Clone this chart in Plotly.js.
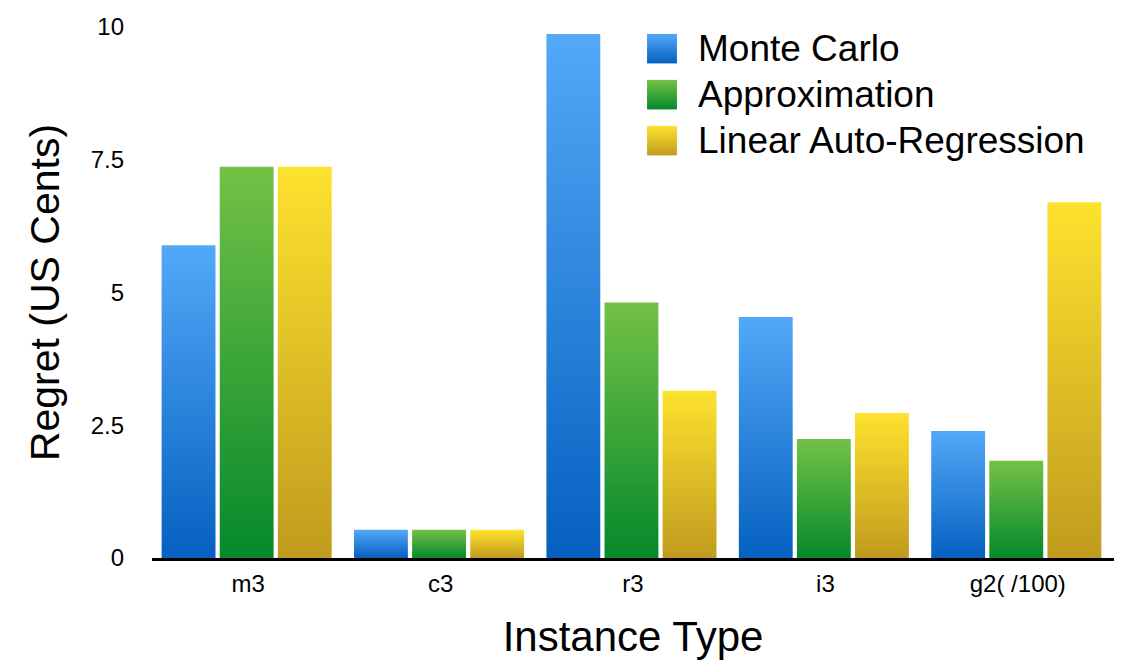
<!DOCTYPE html>
<html>
<head>
<meta charset="utf-8">
<script src="https://cdn.plot.ly/plotly-3.0.1.min.js"></script>
<style>
  html, body { margin: 0; padding: 0; background: #ffffff; }
  #chart { width: 1126px; height: 662px; }
</style>
</head>
<body>
<div id="chart"></div>
<script>
// Regret per instance type for three price-prediction methods
const categories = ['m3', 'c3', 'r3', 'i3', 'g2( /100)'];
const monteCarlo = [5.89, 0.53, 9.87, 4.54, 2.39];
const approximation = [7.37, 0.53, 4.81, 2.24, 1.83];
const linearAutoRegression = [7.37, 0.53, 3.15, 2.73, 6.70];
const yTickValues = [0, 2.5, 5, 7.5, 10];
const yTickLabels = ['0', '2.5', '5', '7.5', '10'];

const series = [
  { name: 'Monte Carlo', values: monteCarlo, light: '#53a9f8', dark: '#0560c0' },
  { name: 'Approximation', values: approximation, light: '#73c146', dark: '#05892b' },
  { name: 'Linear Auto-Regression', values: linearAutoRegression, light: '#fde22e', dark: '#c09b1e' }
];

const FONT = 'Liberation Sans, Arial, Helvetica, sans-serif';
const barWidth = 0.28;     // in category units
const barStep = 0.302;     // distance between bar centres within a group

// Each bar is a filled rectangle so it can carry its own vertical gradient.
const traces = [];
series.forEach((s, si) => {
  const offset = (si - 1) * barStep - 0.008;
  s.values.forEach((v, ci) => {
    const x0 = ci + offset - barWidth / 2;
    const x1 = ci + offset + barWidth / 2;
    traces.push({
      type: 'scatter',
      mode: 'lines',
      x: [x0, x1, x1, x0, x0],
      y: [0, 0, v, v, 0],
      fill: 'toself',
      fillgradient: { type: 'vertical', colorscale: [[0, s.dark], [1, s.light]] },
      line: { width: 0 },
      hoverinfo: 'skip',
      showlegend: false
    });
  });
});

// Legend swatches on an overlay axis pair spanning the plot area (0..1 both ways)
const swatchLeft = 0.5146, swatchRight = 0.5457;
const rowTop = 0.987, rowGap = 0.0866, swatchH = 0.0556;
const annotations = [];
series.forEach((s, si) => {
  const top = rowTop - si * rowGap;
  const bottom = top - swatchH;
  traces.push({
    type: 'scatter',
    mode: 'lines',
    xaxis: 'x2',
    yaxis: 'y2',
    x: [swatchLeft, swatchRight, swatchRight, swatchLeft, swatchLeft],
    y: [bottom, bottom, top, top, bottom],
    fill: 'toself',
    fillgradient: { type: 'vertical', colorscale: [[0, s.dark], [1, s.light]] },
    line: { width: 0 },
    hoverinfo: 'skip',
    showlegend: false
  });
  annotations.push({
    xref: 'paper', yref: 'paper',
    x: swatchRight + 0.0198, y: (top + bottom) / 2,
    xanchor: 'left', yanchor: 'middle',
    text: s.name, showarrow: false,
    font: { family: FONT, size: 37, color: '#000000' }
  });
});

const layout = {
  width: 1126,
  height: 662,
  margin: { l: 152, r: 12, t: 27, b: 104 },
  paper_bgcolor: '#ffffff',
  plot_bgcolor: '#ffffff',
  showlegend: false,
  font: { family: FONT, color: '#000000' },
  xaxis: {
    range: [-0.5, 4.5],
    tickvals: categories.map((c, i) => i),
    ticktext: categories,
    ticks: '',
    showgrid: false,
    zeroline: false,
    showline: true,
    linecolor: '#000000',
    linewidth: 3,
    tickfont: { family: FONT, size: 24, color: '#000000' },
    ticklabelstandoff: 2,
    title: { text: 'Instance Type', font: { family: FONT, size: 42, color: '#000000' }, standoff: 26 },
    automargin: false,
    fixedrange: true
  },
  yaxis: {
    range: [0, 10],
    tickvals: yTickValues,
    ticktext: yTickLabels,
    ticks: '',
    showgrid: false,
    zeroline: false,
    showline: false,
    tickfont: { family: FONT, size: 24, color: '#000000' },
    ticklabelstandoff: 27,
    title: { text: 'Regret (US Cents)', font: { family: FONT, size: 41, color: '#000000' }, standoff: 18 },
    automargin: false,
    fixedrange: true
  },
  xaxis2: { overlaying: 'x', range: [0, 1], visible: false, fixedrange: true },
  yaxis2: { overlaying: 'y', range: [0, 1], visible: false, fixedrange: true },
  annotations: annotations
};

Plotly.newPlot('chart', traces, layout, { displayModeBar: false, staticPlot: true });
</script>
</body>
</html>
